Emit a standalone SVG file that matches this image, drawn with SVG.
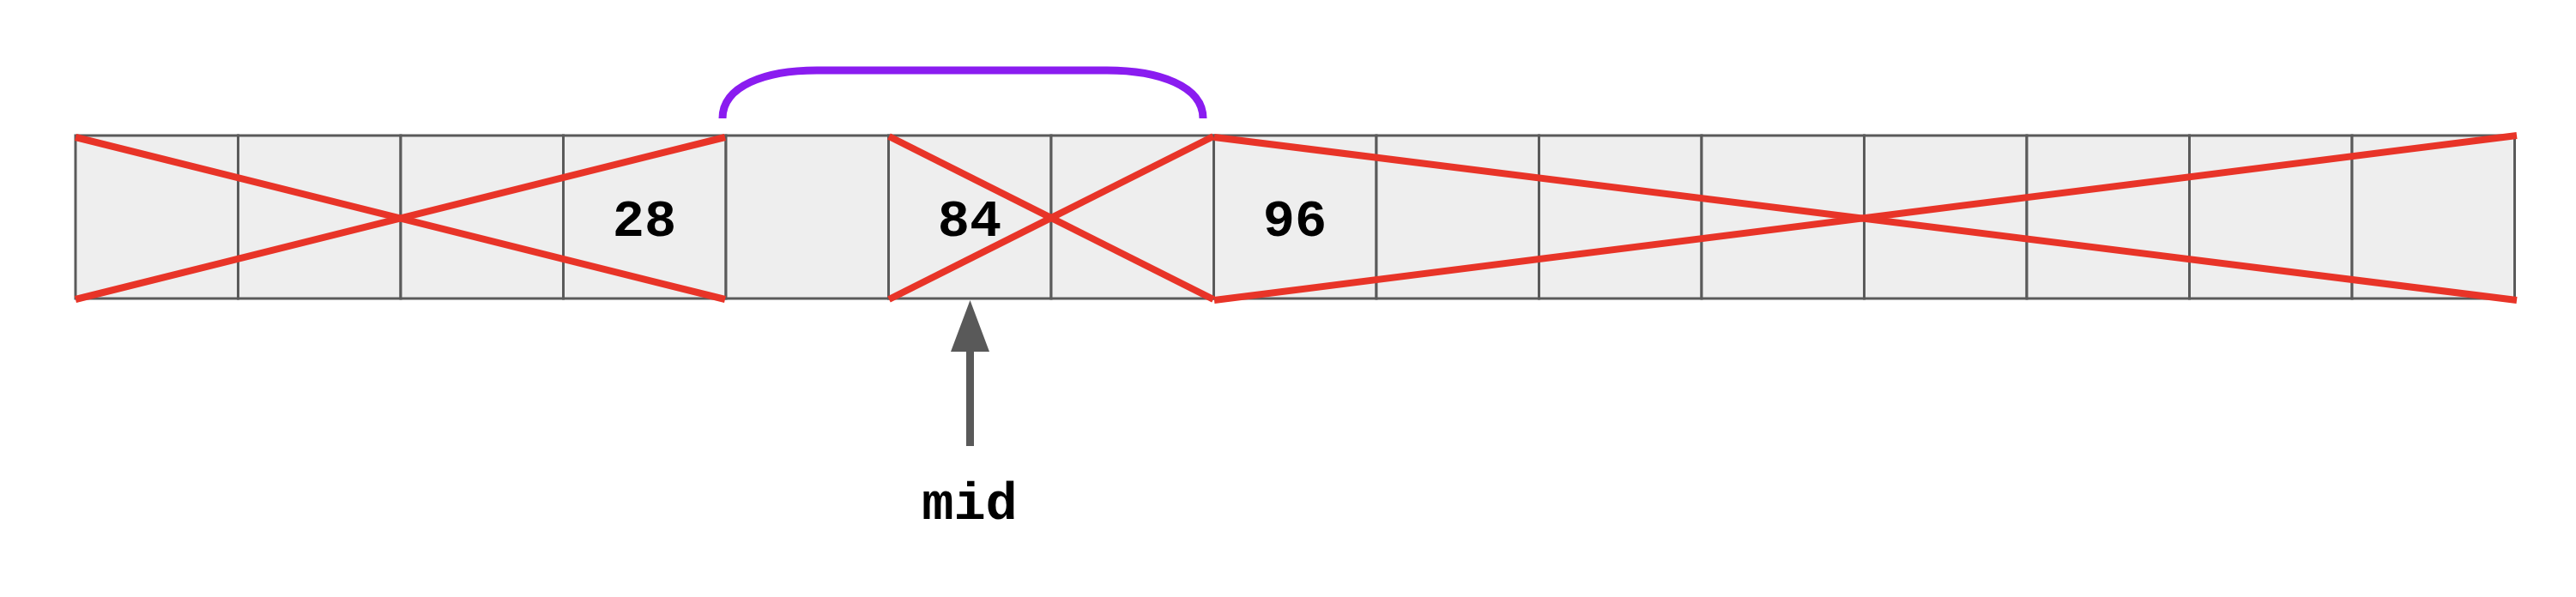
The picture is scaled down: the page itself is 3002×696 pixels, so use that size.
<svg xmlns="http://www.w3.org/2000/svg" width="3002" height="696" viewBox="0 0 3002 696">
<style>
.cell{fill:#eeeeee;stroke:#5a5a5a;stroke-width:3}
.cross{stroke:#e83428;stroke-width:8;fill:none}
.num{font-family:"Liberation Mono","Courier New",monospace;font-weight:bold;font-size:62px;fill:#000;text-anchor:middle}
</style>
<rect width="3002" height="696" fill="#ffffff"/>
<g id="cells">
<rect id="c0" class="cell" x="88" y="158" width="189.5" height="190"/>
<rect id="c1" class="cell" x="277.5" y="158" width="189.5" height="190"/>
<rect id="c2" class="cell" x="467" y="158" width="189.5" height="190"/>
<g id="c3"><rect class="cell" x="656.5" y="158" width="189.5" height="190"/><text class="num" x="751" y="275">28</text></g>
<rect id="c4" class="cell" x="846" y="158" width="189.5" height="190"/>
<g id="c5"><rect class="cell" x="1035.5" y="158" width="189.5" height="190"/><text class="num" x="1130" y="275">84</text></g>
<rect id="c6" class="cell" x="1225" y="158" width="189.5" height="190"/>
<g id="c7"><rect class="cell" x="1414.5" y="158" width="189.5" height="190"/><text class="num" x="1509" y="275">96</text></g>
<rect id="c8" class="cell" x="1604" y="158" width="189.5" height="190"/>
<rect id="c9" class="cell" x="1793.5" y="158" width="189.5" height="190"/>
<rect id="c10" class="cell" x="1983" y="158" width="189.5" height="190"/>
<rect id="c11" class="cell" x="2172.5" y="158" width="189.5" height="190"/>
<rect id="c12" class="cell" x="2362" y="158" width="189.5" height="190"/>
<rect id="c13" class="cell" x="2551.5" y="158" width="189.5" height="190"/>
<rect id="c14" class="cell" x="2741" y="158" width="189.5" height="190"/>
</g>
<g id="crosses">
<line class="cross" x1="88" y1="160" x2="845" y2="349"/>
<line class="cross" x1="88" y1="349" x2="845" y2="160"/>
<line class="cross" x1="1036" y1="159" x2="1414" y2="349"/>
<line class="cross" x1="1036" y1="349" x2="1414" y2="159"/>
<line class="cross" x1="1415" y1="160" x2="2933" y2="350"/>
<line class="cross" x1="1415" y1="350" x2="2933" y2="158"/>
</g>
<g id="bracket">
<path d="M842 138 C842 100 892 82 952 82 L1290 82 C1350 82 1402 100 1402 138" fill="none" stroke="#8a1cf0" stroke-width="9"/>
</g>
<g id="connectors">
<line x1="1130.5" y1="520" x2="1130.5" y2="405" stroke="#595959" stroke-width="9"/>
<polygon points="1130.5,350 1108,410 1153,410" fill="#595959"/>
</g>
<g id="label-mid">
<text class="num" x="1130" y="605">mid</text>
</g>
</svg>
